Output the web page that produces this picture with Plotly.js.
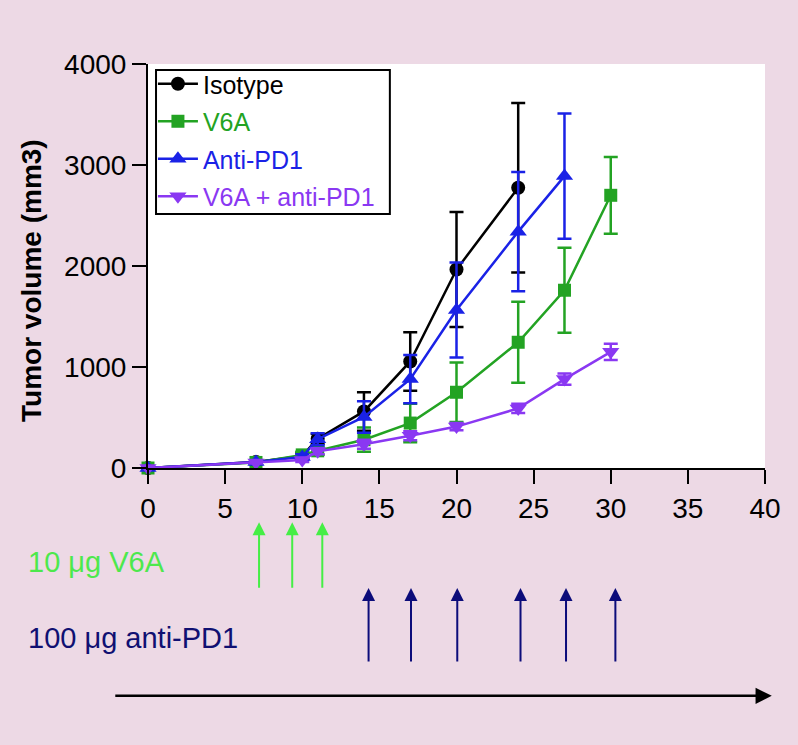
<!DOCTYPE html>
<html>
<head>
<meta charset="utf-8">
<script src="https://cdn.plot.ly/plotly-3.0.1.min.js"></script>
<style>
  html, body { margin: 0; padding: 0; background: #edd9e5; }
  #chart { width: 798px; height: 745px; }
</style>
</head>
<body>
<div id="chart"></div>
<script>
// ---- Data ----
const seriesNames = ["Isotype", "V6A", "Anti-PD1", "V6A + anti-PD1"];

const isotypeDays = [0, 7, 10, 11, 14, 17, 20, 24];
const isotypeVol  = [0, 60, 120, 290, 560, 1055, 1965, 2775];
const isotypeErr  = [0, 15, 30, 50, 190, 290, 570, 840];

const v6aDays = [0, 7, 10, 11, 14, 17, 20, 24, 27, 30];
const v6aVol  = [0, 55, 130, 170, 280, 445, 750, 1245, 1760, 2700];
const v6aErr  = [0, 15, 30, 40, 120, 190, 295, 400, 420, 380];

const antiPD1Days = [0, 7, 10, 11, 14, 17, 20, 24, 27];
const antiPD1Vol  = [0, 60, 110, 285, 505, 880, 1565, 2340, 2890];
const antiPD1Err  = [0, 15, 25, 60, 155, 240, 470, 590, 620];

const comboDays = [0, 7, 10, 11, 14, 17, 20, 24, 27, 30];
const comboVol  = [0, 55, 80, 165, 235, 320, 410, 590, 880, 1150];
const comboErr  = [0, 10, 20, 30, 45, 45, 35, 45, 55, 80];

const xTickVals = [0, 5, 10, 15, 20, 25, 30, 35, 40];
const yTickVals = [0, 1000, 2000, 3000, 4000];
const yTitle = "Tumor volume (mm3)";

// dosing schedule (days)
const v6aDoseDays = [7.2, 9.35, 11.3];
const pd1DoseDays = [14.3, 17.05, 20.05, 24.15, 27.1, 30.3];
const v6aDoseLabel = "10 μg V6A";
const pd1DoseLabel = "100 μg anti-PD1";

// ---- Styles ----
const colors = ["#000000", "#23a323", "#1a22e6", "#8a38f2"];
const symbols = ["circle", "square", "triangle-up", "triangle-down"];
const markerSizes = [14, 13, 15, 15];
const FONT = "Liberation Sans, Arial, Helvetica, sans-serif";

const allDays = [isotypeDays, v6aDays, antiPD1Days, comboDays];
const allVol = [isotypeVol, v6aVol, antiPD1Vol, comboVol];
const allErr = [isotypeErr, v6aErr, antiPD1Err, comboErr];

const traces = seriesNames.map((nm, i) => ({
  type: "scatter",
  mode: "lines+markers",
  x: allDays[i],
  y: allVol[i],
  name: `<span style="color:${colors[i]}">${nm}</span>`,
  legendgroup: "g" + i,
  line: { color: colors[i], width: 2.5 },
  marker: { color: colors[i], symbol: symbols[i], size: markerSizes[i] },
  error_y: { type: "data", array: allErr[i], visible: true, color: colors[i], thickness: 2.5, width: 7 },
  cliponaxis: false
}));

// ---- Annotations: dosing arrows, labels, timeline, y title ----
const annotations = [];
v6aDoseDays.forEach(d => annotations.push({
  x: d, xref: "x", y: -0.134, yref: "paper",
  showarrow: true, ax: 0, ay: 67, axref: "pixel", ayref: "pixel",
  arrowcolor: "#45ee45", arrowwidth: 2, arrowhead: 2, arrowsize: 1.3, text: ""
}));
pd1DoseDays.forEach(d => annotations.push({
  x: d, xref: "x", y: -0.297, yref: "paper",
  showarrow: true, ax: 0, ay: 75, axref: "pixel", ayref: "pixel",
  arrowcolor: "#0c0c7a", arrowwidth: 2, arrowhead: 2, arrowsize: 1.3, text: ""
}));
annotations.push({
  x: -0.198, xref: "paper", y: -0.2327, yref: "paper",
  xanchor: "left", yanchor: "middle", showarrow: false,
  text: v6aDoseLabel, font: { family: FONT, size: 29, color: "#4de84d" }
});
annotations.push({
  x: -0.198, xref: "paper", y: -0.421, yref: "paper",
  xanchor: "left", yanchor: "middle", showarrow: false,
  text: pd1DoseLabel, font: { family: FONT, size: 29, color: "#101072" }
});
annotations.push({
  x: 1.011, xref: "paper", y: -0.564, yref: "paper",
  showarrow: true, ax: -658, ay: 0, axref: "pixel", ayref: "pixel",
  arrowcolor: "#000000", arrowwidth: 2.5, arrowhead: 2, arrowsize: 1.3, text: ""
});
annotations.push({
  x: -0.188, xref: "paper", y: 0.463, yref: "paper",
  xanchor: "center", yanchor: "middle", showarrow: false, textangle: -90,
  text: "<b>" + yTitle + "</b>", font: { family: FONT, size: 28, color: "#000" }
});

const layout = {
  width: 798, height: 745,
  paper_bgcolor: "#edd9e5",
  plot_bgcolor: "#ffffff",
  margin: { l: 148, r: 33, t: 64, b: 277, pad: 0 },
  font: { family: FONT, color: "#000" },
  showlegend: true,
  legend: {
    x: 0.008, y: 1.0074, xanchor: "left", yanchor: "top",
    bgcolor: "rgba(0,0,0,0)", borderwidth: 0,
    font: { family: FONT, size: 25 },
    traceorder: "grouped", tracegroupgap: 2, itemwidth: 40
  },
  shapes: [{
    type: "rect", xref: "paper", yref: "paper",
    x0: 0.013, x1: 0.392, y0: 0.629, y1: 0.985,
    line: { color: "#000", width: 2 }, fillcolor: "#ffffff", layer: "above"
  }],
  xaxis: {
    range: [0, 40], tickvals: xTickVals, ticktext: xTickVals.map(String),
    showgrid: false, zeroline: false, showline: true, linecolor: "#000", linewidth: 2,
    ticks: "outside", ticklen: 14, tickwidth: 2, tickcolor: "#000",
    tickfont: { family: FONT, size: 28, color: "#000" }, automargin: false
  },
  yaxis: {
    range: [0, 4000], tickvals: yTickVals, ticktext: yTickVals.map(String),
    showgrid: false, zeroline: false, showline: true, linecolor: "#000", linewidth: 2,
    ticks: "outside", ticklen: 14, tickwidth: 2, tickcolor: "#000",
    tickfont: { family: FONT, size: 28, color: "#000" }, automargin: false
  },
  annotations: annotations
};

Plotly.newPlot("chart", traces, layout, { displayModeBar: false, staticPlot: true });
</script>
</body>
</html>
